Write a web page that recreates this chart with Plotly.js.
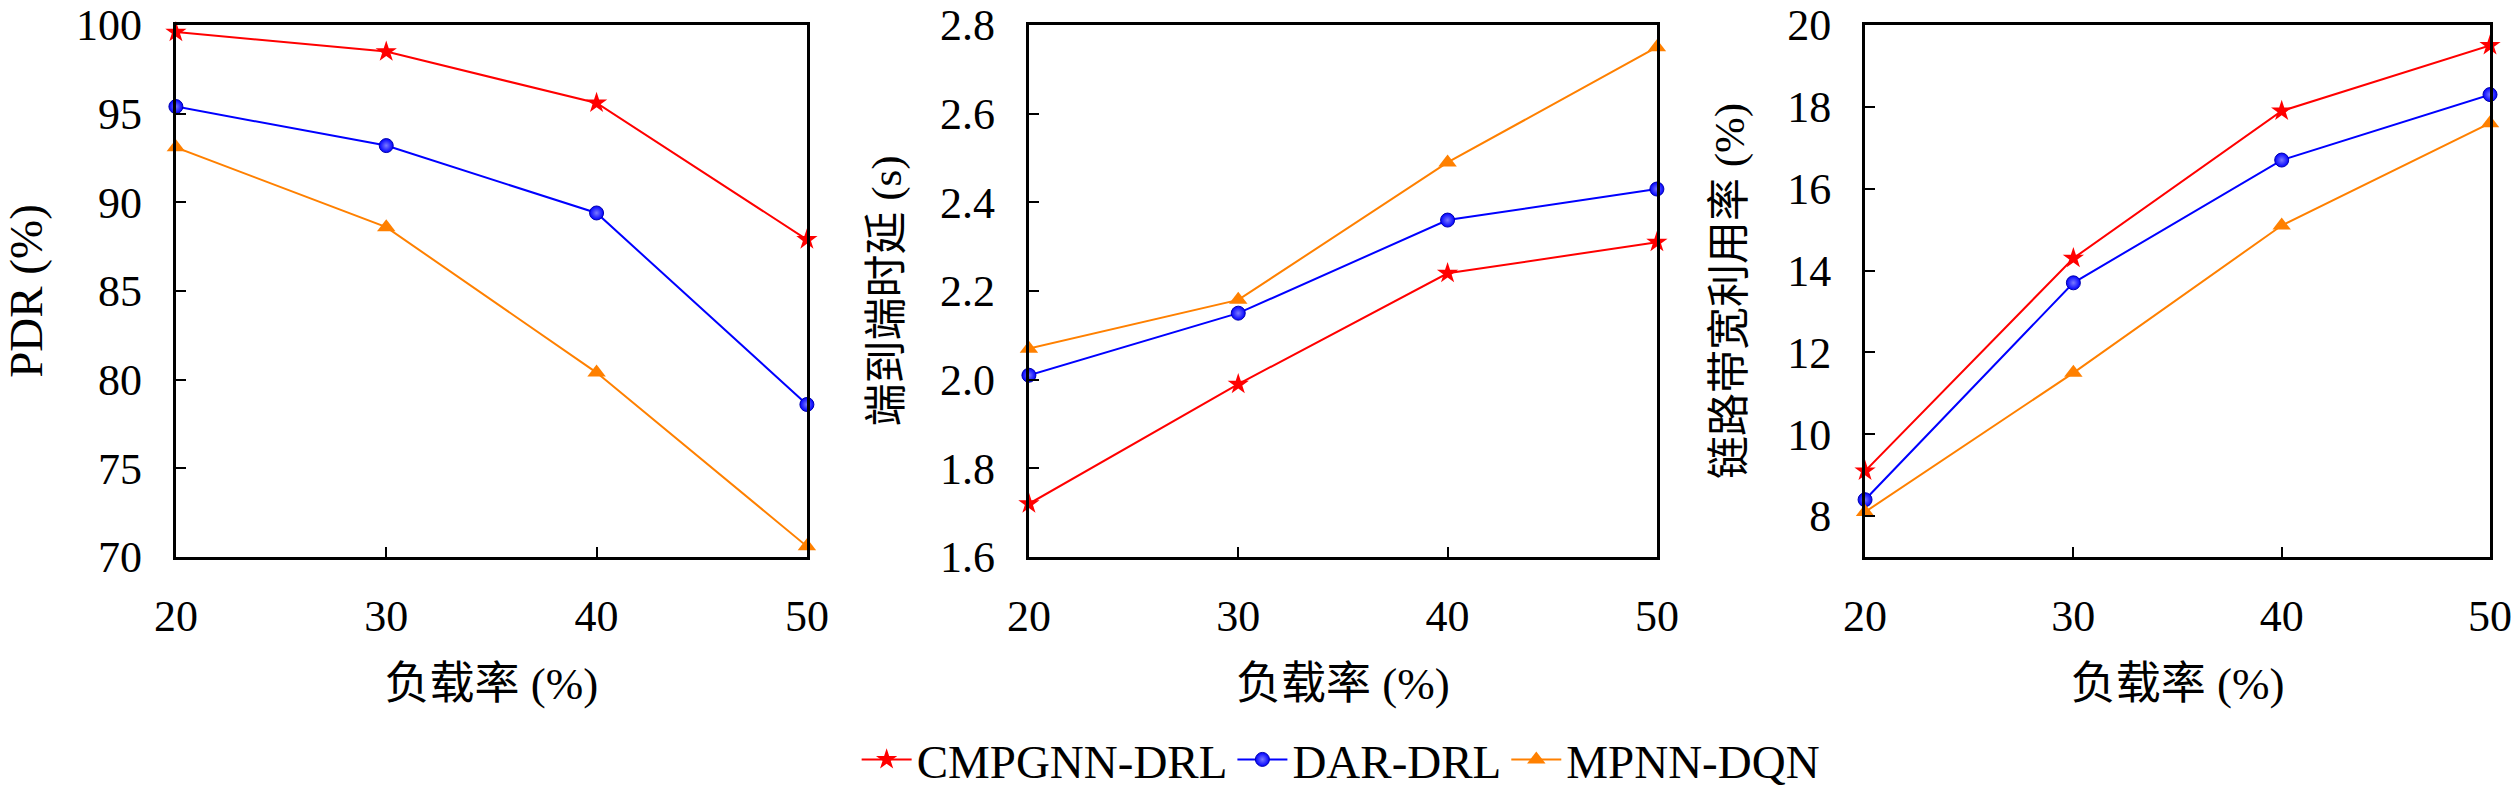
<!DOCTYPE html>
<html>
<head>
<meta charset="utf-8">
<script src="https://cdn.plot.ly/plotly-3.0.1.min.js"></script>
<style>
  html, body { margin: 0; padding: 0; background: #fff; }
  #plot { width: 2520px; height: 794px; }
</style>
</head>
<body>
<div id="plot"></div>
<script>
// load rate (%) on every x axis
const loads = [20, 30, 40, 50];

const seriesNames = ['CMPGNN-DRL', 'DAR-DRL', 'MPNN-DQN'];

// PDR (%)
const pdrCmpgnn = [99.6, 98.5, 95.6, 87.9];
const pdrDar = [95.4, 93.2, 89.4, 78.6];
const pdrMpnn = [93.1, 88.6, 80.4, 70.6];

// end-to-end delay (s)
const delayCmpgnn = [1.72, 1.99, 2.24, 2.31];
const delayDar = [2.01, 2.15, 2.36, 2.43];
const delayMpnn = [2.07, 2.18, 2.49, 2.75];

// link bandwidth utilisation (%)
const bwCmpgnn = [9.1, 14.3, 17.9, 19.5];
const bwDar = [8.4, 13.7, 16.7, 18.3];
const bwMpnn = [8.1, 11.5, 15.1, 17.6];

const styles = [
    { color: '#ff0000', symbol: 'star', size: 16 },
    { color: '#0000ff', symbol: 'circle', size: 14 },
    { color: '#ff8000', symbol: 'triangle-up', size: 16 }
];

const FONT = "'Liberation Serif', 'Noto Sans CJK SC', serif";

function makeTrace(i, y, axisIdx) {
    const s = styles[i];
    const suffix = axisIdx === 1 ? '' : String(axisIdx);
    const marker = {
        color: s.color,
        symbol: s.symbol,
        size: s.size,
        line: { width: 0 }
    };
    if (s.symbol === 'circle') {
        // shaded ball look
        marker.gradient = { type: 'radial', color: '#7a7aff' };
        marker.line = { width: 1, color: '#0000b0' };
    }
    return {
        type: 'scatter',
        mode: 'lines+markers',
        x: loads,
        y: y,
        name: seriesNames[i],
        xaxis: 'x' + suffix,
        yaxis: 'y' + suffix,
        showlegend: axisIdx === 1,
        cliponaxis: false,
        line: { color: s.color, width: 2 },
        marker: marker
    };
}

const data = [
    makeTrace(0, pdrCmpgnn, 1), makeTrace(1, pdrDar, 1), makeTrace(2, pdrMpnn, 1),
    makeTrace(0, delayCmpgnn, 2), makeTrace(1, delayDar, 2), makeTrace(2, delayMpnn, 2),
    makeTrace(0, bwCmpgnn, 3), makeTrace(1, bwDar, 3), makeTrace(2, bwMpnn, 3)
];

const TOP = 0.9685;
const BOTTOM = 0.2985;

function xAxis(domain, anchor) {
    return {
        domain: domain,
        anchor: anchor,
        range: [20, 50],
        tickvals: loads,
        ticks: 'inside',
        ticklen: 10,
        tickwidth: 2,
        tickcolor: '#000',
        showline: true,
        linecolor: '#000',
        linewidth: 3,
        mirror: true,
        showgrid: false,
        zeroline: false,
        ticklabelstandoff: 18,
        ticklabeloverflow: 'allow',
        tickfont: { family: FONT, size: 44, color: '#000' },
        title: {
            text: '负载率 (%)',
            standoff: 28,
            font: { family: FONT, size: 45, color: '#000' }
        }
    };
}

function yAxis(anchor, range, tickvals, fmt, title, titleSize, standoff) {
    return {
        domain: [BOTTOM, TOP],
        anchor: anchor,
        range: range,
        tickvals: tickvals,
        tickformat: fmt,
        ticks: 'inside',
        ticklen: 10,
        tickwidth: 2,
        tickcolor: '#000',
        showline: true,
        linecolor: '#000',
        linewidth: 3,
        mirror: true,
        showgrid: false,
        zeroline: false,
        ticklabelstandoff: 22,
        ticklabeloverflow: 'allow',
        tickfont: { family: FONT, size: 44, color: '#000' },
        title: {
            text: title,
            standoff: standoff,
            font: { family: FONT, size: titleSize, color: '#000' }
        }
    };
}

const layout = {
    width: 2520,
    height: 794,
    margin: { l: 0, r: 0, t: 0, b: 0, autoexpand: false },
    paper_bgcolor: '#fff',
    plot_bgcolor: '#fff',
    font: { family: FONT, color: '#000' },
    xaxis: xAxis([0.0698, 0.3202], 'y'),
    xaxis2: xAxis([0.4083, 0.6575], 'y2'),
    xaxis3: xAxis([0.7401, 0.9881], 'y3'),
    yaxis: yAxis('x', [70, 100], [70, 75, 80, 85, 90, 95, 100], 'd', 'PDR (%)', 47, 20),
    yaxis2: yAxis('x2', [1.6, 2.8], [1.6, 1.8, 2.0, 2.2, 2.4, 2.6, 2.8], '.1f', '端到端时延 (s)', 43, 26),
    yaxis3: yAxis('x3', [7, 20], [8, 10, 12, 14, 16, 18, 20], 'd', '链路带宽利用率 (%)', 43, 30),
    showlegend: true,
    legend: {
        orientation: 'h',
        x: 0.532,
        xanchor: 'center',
        y: 0.043,
        yanchor: 'middle',
        itemwidth: 50,
        font: { family: FONT, size: 47, color: '#000' },
        bgcolor: 'rgba(0,0,0,0)'
    }
};

Plotly.newPlot('plot', data, layout, { staticPlot: true });
</script>
</body>
</html>
